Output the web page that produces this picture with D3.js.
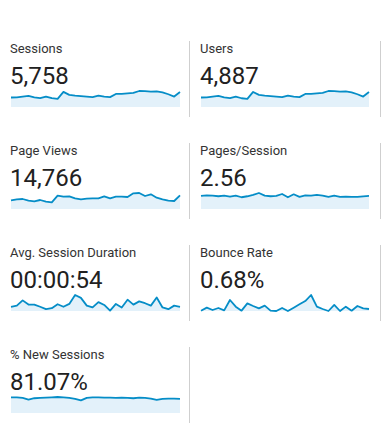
<!DOCTYPE html>
<meta charset="utf-8">
<style>
    body { margin: 0; background: #fff; }
    text { font-family: Roboto, "Noto Sans", sans-serif; }
    .label { font-size: 13px; fill: #333; }
    .value { font-size: 24px; fill: #212121; }
    .divider { stroke: #cfcfcf; stroke-width: 1; }
    .area { fill: #e3f1fa; }
    .line { fill: none; stroke: #058dc7; stroke-width: 1.8; stroke-linejoin: round; }
</style>
<svg width="387" height="436"></svg>
<script src="https://d3js.org/d3.v7.min.js"></script>
<script>

    var labels = ["Sessions", "Users", "Page Views", "Pages/Session",
        "Avg. Session Duration", "Bounce Rate", "% New Sessions"];
    var totals = ["5,758", "4,887", "14,766", "2.56", "00:00:54", "0.68%", "81.07%"];

    // daily values
    var sessions = [154, 155, 170, 180, 156, 145, 170, 143, 133, 245, 197, 186, 178, 170, 160,
        186, 170, 160, 212, 213, 222, 228, 260, 259, 250, 254, 238, 207, 170, 244];
    var users = [131, 132, 144, 153, 132, 123, 144, 121, 113, 208, 167, 158, 151, 144, 136,
        158, 144, 136, 180, 181, 188, 194, 221, 220, 212, 216, 202, 176, 144, 207];
    var pageViews = [390, 435, 450, 375, 345, 405, 330, 300, 600, 555, 570, 480, 435, 465, 480,
        480, 570, 480, 555, 555, 540, 705, 720, 585, 660, 510, 435, 380, 360, 615];
    var pagesPerSession = [2.52, 2.65, 2.58, 2.46, 2.58, 2.39, 2.58, 2.27, 2.46, 2.71, 3.09, 2.58,
        2.46, 2.52, 2.90, 2.27, 2.84, 2.33, 2.65, 2.58, 2.71, 2.58, 2.33, 2.58, 2.33, 2.40, 2.33,
        2.33, 2.45, 2.52];
    var avgDuration = [37, 47, 93, 56, 56, 37, 16, 25, 59, 37, 62, 140, 115, 47, 31,
        78, 53, 3, 62, 31, 99, 56, 84, 68, 47, 118, 31, 16, 47, 37];
    var bounceRate = [0.06, 0.62, 0.19, 0.56, 0.12, 2.05, 0.81, 0.06, 1.43, 0.93, 0.5, 0.99, 0.06,
        0, 0.56, 0, 0.62, 1.24, 1.86, 2.98, 0.81, 0.37, 0, 1.12, 0, 0.81, 0.06, 0.93, 0.5, 0.37];
    var newSessions = [85.7, 85.7, 82.3, 73.7, 80.6, 82.3, 84, 85.7, 87.4, 85.7, 82.3, 77.1, 68.6,
        82.3, 85.7, 85.7, 84, 84, 82.3, 84, 82.3, 80.6, 84, 82.3, 78.9, 72, 77.1, 78.9, 78.9, 77.1];

    var series = [sessions, users, pageViews, pagesPerSession, avgDuration, bounceRate, newSessions];

    var svg = d3.select("svg");

    var colX = [10, 200];
    var chartW = [169, 168];
    var rowTop = 41, rowStep = 102, cellH = 76;

    labels.forEach(function (name, i) {
        var col = i % 2, row = Math.floor(i / 2);
        var top = rowTop + row * rowStep;
        var g = svg.append("g").attr("transform", "translate(" + colX[col] + "," + top + ")");

        g.append("text").attr("class", "label").attr("x", 0).attr("y", 12).text(name);
        g.append("text").attr("class", "value").attr("x", 0).attr("y", 42.5).text(totals[i]);

        var data = series[i];
        var x = d3.scaleLinear().domain([0, data.length - 1]).range([1, 1 + chartW[col]]);
        var y = d3.scaleLinear().domain([0, d3.max(data)]).range([66, 50]);

        g.append("path").datum(data).attr("class", "area")
            .attr("d", d3.area().x(function (d, j) { return x(j); }).y0(y(0)).y1(function (d) { return y(d); }));
        g.append("path").datum(data).attr("class", "line")
            .attr("d", d3.line().x(function (d, j) { return x(j); }).y(function (d) { return y(d); }));

        // divider right of the cell
        svg.append("line").attr("class", "divider")
            .attr("x1", col ? 380.5 : 189.5).attr("x2", col ? 380.5 : 189.5)
            .attr("y1", top).attr("y2", top + cellH);
    });

</script>
